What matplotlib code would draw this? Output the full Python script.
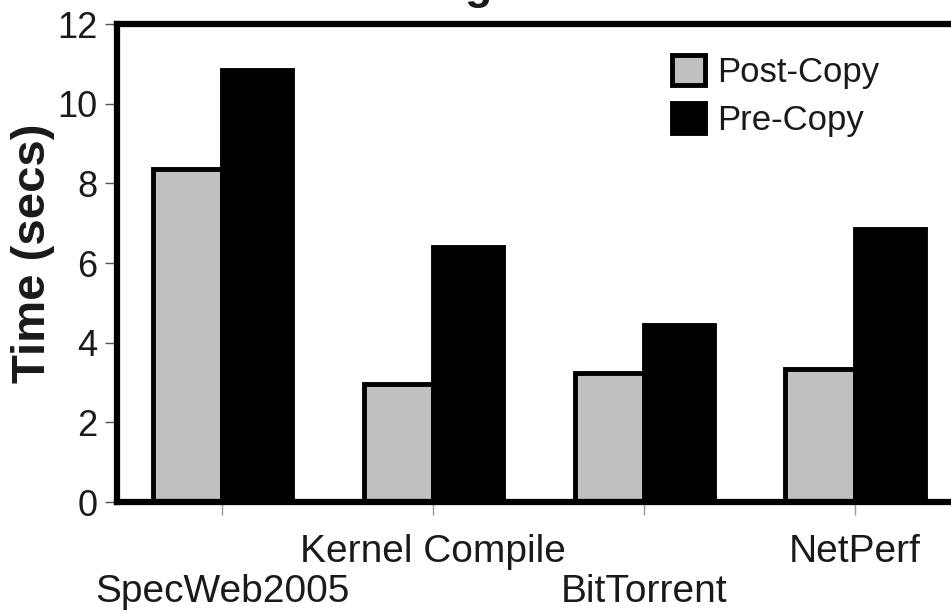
import matplotlib
matplotlib.use('Agg')
from matplotlib import pyplot as plt
from matplotlib.patches import Patch
import numpy as np

# data
benchmarks = ['SpecWeb2005', 'Kernel Compile', 'BitTorrent', 'NetPerf']
post_copy = [8.35, 2.95, 3.25, 3.35]
pre_copy = [10.85, 6.4, 4.45, 6.85]
yticks = [0, 2, 4, 6, 8, 10, 12]

plt.rcParams['font.family'] = ['Liberation Sans', 'DejaVu Sans']
txt = '#1a1a1a'

def main():
	W, H = 951, 611
	fig = plt.figure(figsize=(W/100, H/100), dpi=100)
	ax = fig.add_axes([117/W, 1-502/H, (960.5-117)/W, 478/H])

	x = np.arange(len(benchmarks))
	w = 0.33
	ax.bar(x - w/2, post_copy, w, color='#c0c0c0', edgecolor='black', linewidth=3.5, zorder=2)
	ax.bar(x + w/2, pre_copy, w, color='black', edgecolor='black', linewidth=3.5, zorder=2)

	ax.set_xlim(-0.5, 3.5)
	ax.set_ylim(0, 12)
	ax.set_yticks(yticks)
	# staggered labels: odd ones on the upper row (major), even ones lower (minor)
	ax.set_xticks(x[1::2])
	ax.set_xticklabels(benchmarks[1::2], fontsize=28, color=txt)
	ax.set_xticks(x[0::2], minor=True)
	ax.set_xticklabels(benchmarks[0::2], minor=True, fontsize=28, color=txt)
	ax.tick_params(axis='x', which='both', length=9, width=1, color='#999999')
	ax.tick_params(axis='x', which='major', pad=14)
	ax.tick_params(axis='x', which='minor', pad=43)
	ax.tick_params(axis='y', length=9, width=1, color='#555555', pad=5, labelsize=26, labelcolor=txt)

	for s in ax.spines.values():
		s.set_linewidth(4.5)
		s.set_color('black')
		s.set_zorder(3)

	fig.text(33/W, 1-253/H, 'Time (secs)', rotation=90, ha='center', va='center',
		fontsize=34, fontweight='bold', color=txt)

	# title, mostly above the visible area
	fig.text(516/W, 1.0 + 1/H, 'Total Migration Time', ha='center', va='baseline',
		fontsize=32, fontweight='bold', color=txt)

	handles = [Patch(facecolor='#c0c0c0', edgecolor='black', linewidth=3.5),
		Patch(facecolor='black', edgecolor='black', linewidth=3.5)]
	leg = fig.legend(handles, ['Post-Copy', 'Pre-Copy'], loc='upper left',
		bbox_to_anchor=(672/W, 1-55/H), frameon=False, fontsize=25,
		handlelength=0.95, handleheight=0.95, handletextpad=0.35,
		labelspacing=0.42, borderpad=0, borderaxespad=0)
	for t in leg.get_texts():
		t.set_color(txt)

	plt.savefig('out.png', dpi=100)
	plt.close(fig)

if __name__ == '__main__':
	main()
